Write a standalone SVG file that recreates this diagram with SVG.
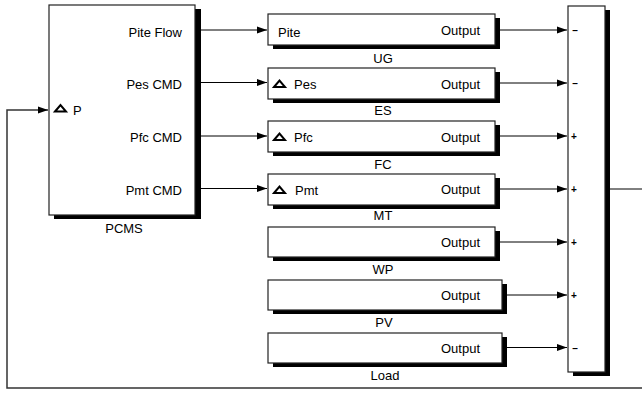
<svg xmlns="http://www.w3.org/2000/svg" width="642" height="395" viewBox="0 0 642 395">
<defs>
<marker id="arr" viewBox="0 0 10 8" refX="10" refY="4" markerWidth="10" markerHeight="8" markerUnits="userSpaceOnUse" orient="auto">
<path d="M0,0.5 L10,4 L0,7.5 Z" fill="#000"/>
</marker>
</defs>
<style>
text{font-family:"Liberation Sans",Arial,sans-serif;font-size:13px;fill:#000;dominant-baseline:central}
.box{fill:#fff;stroke:#222;stroke-width:1.2}
.sh{fill:#000}
.tri{fill:#fff;stroke:#000;stroke-width:2;stroke-linejoin:miter}
.w{fill:none;stroke:#000;stroke-width:1}
.loop{fill:none;stroke:#333;stroke-width:1.5}
.r{text-anchor:end}
.m{text-anchor:middle}
.sg{font-size:10px;font-weight:bold;text-anchor:middle}
</style>
<g id="PCMS">
<rect class="sh" x="54" y="9" width="147" height="210"/>
<rect class="box" x="49" y="5" width="146" height="210"/>
<text class="r" x="182" y="32">Pite Flow</text>
<text class="r" x="182" y="84">Pes CMD</text>
<text class="r" x="182" y="137">Pfc CMD</text>
<text class="r" x="182" y="190">Pmt CMD</text>
<polygon class="tri" points="55,111.5 60.5,105 66,111.5"/>
<text x="73" y="110">P</text>
<text class="m" x="124" y="228">PCMS</text>
</g>
<g id="UG">
<rect class="sh" x="273" y="18" width="227" height="31"/>
<rect class="box" x="268" y="14" width="227" height="31"/>
<text x="278" y="32">Pite</text>
<text class="r" x="480" y="30">Output</text>
<text class="m" x="383" y="58">UG</text>
</g>
<g id="ES">
<rect class="sh" x="273" y="72" width="227" height="31"/>
<rect class="box" x="268" y="68" width="227" height="31"/>
<polygon class="tri" points="274,87 279.5,80.5 285,87"/>
<text x="294" y="84">Pes</text>
<text class="r" x="480" y="84">Output</text>
<text class="m" x="383" y="110">ES</text>
</g>
<g id="FC">
<rect class="sh" x="273" y="125" width="227" height="31"/>
<rect class="box" x="268" y="121" width="227" height="31"/>
<polygon class="tri" points="274,140 279.5,133.5 285,140"/>
<text x="294" y="137">Pfc</text>
<text class="r" x="480" y="137">Output</text>
<text class="m" x="383" y="164">FC</text>
</g>
<g id="MT">
<rect class="sh" x="273" y="178" width="227" height="31"/>
<rect class="box" x="268" y="174" width="227" height="31"/>
<polygon class="tri" points="274,193 279.5,186.5 285,193"/>
<text x="295" y="190">Pmt</text>
<text class="r" x="480" y="189">Output</text>
<text class="m" x="383" y="215">MT</text>
</g>
<g id="WP">
<rect class="sh" x="273" y="231" width="227" height="30"/>
<rect class="box" x="268" y="227" width="227" height="30"/>
<text class="r" x="480" y="242">Output</text>
<text class="m" x="383" y="269">WP</text>
</g>
<g id="PV">
<rect class="sh" x="273" y="284" width="234" height="30"/>
<rect class="box" x="268" y="280" width="234" height="30"/>
<text class="r" x="480" y="295">Output</text>
<text class="m" x="384" y="322">PV</text>
</g>
<g id="Load">
<rect class="sh" x="273" y="337" width="234" height="30"/>
<rect class="box" x="268" y="333" width="234" height="30"/>
<text class="r" x="480" y="348">Output</text>
<text class="m" x="385" y="375">Load</text>
</g>
<g id="Sum">
<rect class="sh" x="573" y="10" width="37" height="366"/>
<rect class="box" x="568" y="6" width="37" height="366"/>
<text class="sg" x="575" y="30">–</text>
<text class="sg" x="575" y="83">–</text>
<text class="sg" x="574" y="136">+</text>
<text class="sg" x="574" y="189">+</text>
<text class="sg" x="574" y="242">+</text>
<text class="sg" x="574" y="295">+</text>
<text class="sg" x="575" y="348">–</text>
</g>
<g id="connectors">
<path class="w" d="M201,30 H267" marker-end="url(#arr)"/>
<path class="w" d="M201,82.5 H267" marker-end="url(#arr)"/>
<path class="w" d="M201,136 H267" marker-end="url(#arr)"/>
<path class="w" d="M201,188.5 H267" marker-end="url(#arr)"/>
<path class="w" d="M500,30 H567" marker-end="url(#arr)"/>
<path class="w" d="M500,83 H567" marker-end="url(#arr)"/>
<path class="w" d="M500,136 H567" marker-end="url(#arr)"/>
<path class="w" d="M500,189 H567" marker-end="url(#arr)"/>
<path class="w" d="M500,242 H567" marker-end="url(#arr)"/>
<path class="w" d="M507,295 H567" marker-end="url(#arr)"/>
<path class="w" d="M507,347.5 H567" marker-end="url(#arr)"/>
<path class="w" d="M610,189 H642" stroke="#666"/>
<path class="loop" d="M642,388 H7 V110 H48" marker-end="url(#arr)"/>
</g>
</svg>
